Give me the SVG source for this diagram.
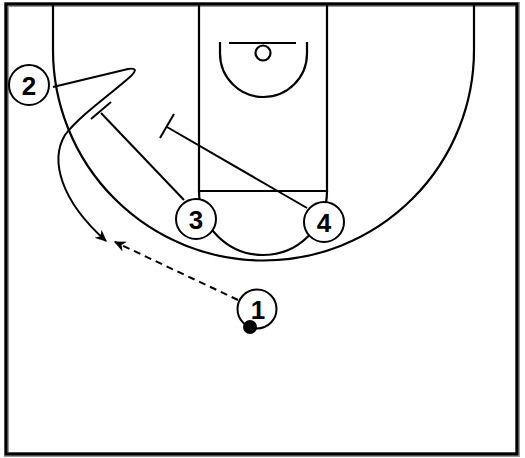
<svg xmlns="http://www.w3.org/2000/svg" width="525" height="458" viewBox="0 0 525 458">
<defs>
<style>
.ln{fill:none;stroke:#000;stroke-width:2.2}
.pl circle{fill:#fff;stroke:#000;stroke-width:2}
.pl text{font-family:"Liberation Sans",Arial,sans-serif;font-weight:bold;font-size:26px;text-anchor:middle;fill:#000}
.mv{fill:none;stroke:#000;stroke-width:2}
</style>
<marker id="ah" viewBox="0 0 10 10" refX="9" refY="5" markerWidth="12" markerHeight="12" markerUnits="userSpaceOnUse" orient="auto">
<path d="M0,0.5 L10,5 L0,9.5 L3,5 Z" fill="#000"/>
</marker>
</defs>
<rect width="525" height="458" fill="#fff"/>
<g id="court">
<rect x="6.5" y="4.5" width="511" height="450" fill="none" stroke="#999" stroke-width="5"/>
<rect x="6" y="4" width="511" height="450" fill="none" stroke="#000" stroke-width="3"/>
<path class="ln" d="M53,4 V50 A210.5,210.5 0 0 0 474,50 V4"/>
<path class="ln" d="M199,4 V191 H327 V4"/>
<path class="ln" d="M199,191 A64,64 0 0 0 327,191"/>
<line class="ln" x1="229" y1="43" x2="296" y2="43"/>
<circle class="ln" cx="263" cy="53" r="7.5"/>
<path class="ln" d="M220,42 V53.5 A43.5,43.5 0 0 0 307,53.5 V42"/>
</g>
<g id="connectors">
<path class="mv" d="M184,200 L101,113"/>
<line class="mv" x1="91" y1="119" x2="111" y2="102"/>
<path class="mv" d="M307,208 L167,127"/>
<line class="mv" x1="160" y1="138" x2="174" y2="114"/>
<path class="mv" marker-end="url(#ah)" d="M53,87 L128,69 Q140,67 131,76 C110,95 80,115 65,135 C50,160 60,200 106,241"/>
<path class="mv" marker-end="url(#ah)" stroke-dasharray="7,5" d="M238,300 L115,242"/>
</g>
<g id="p2" class="pl"><circle cx="29" cy="85" r="20"/><text x="29" y="94.5">2</text></g>
<g id="p3" class="pl"><circle cx="196" cy="219" r="20"/><text x="196" y="228.5">3</text></g>
<g id="p4" class="pl"><circle cx="324" cy="222" r="20"/><text x="324" y="231.5">4</text></g>
<g id="p1" class="pl"><circle cx="257" cy="309" r="19.5"/><text x="258" y="318.5">1</text></g>
<g id="ball"><circle cx="250" cy="327" r="7" fill="#000"/></g>
</svg>
